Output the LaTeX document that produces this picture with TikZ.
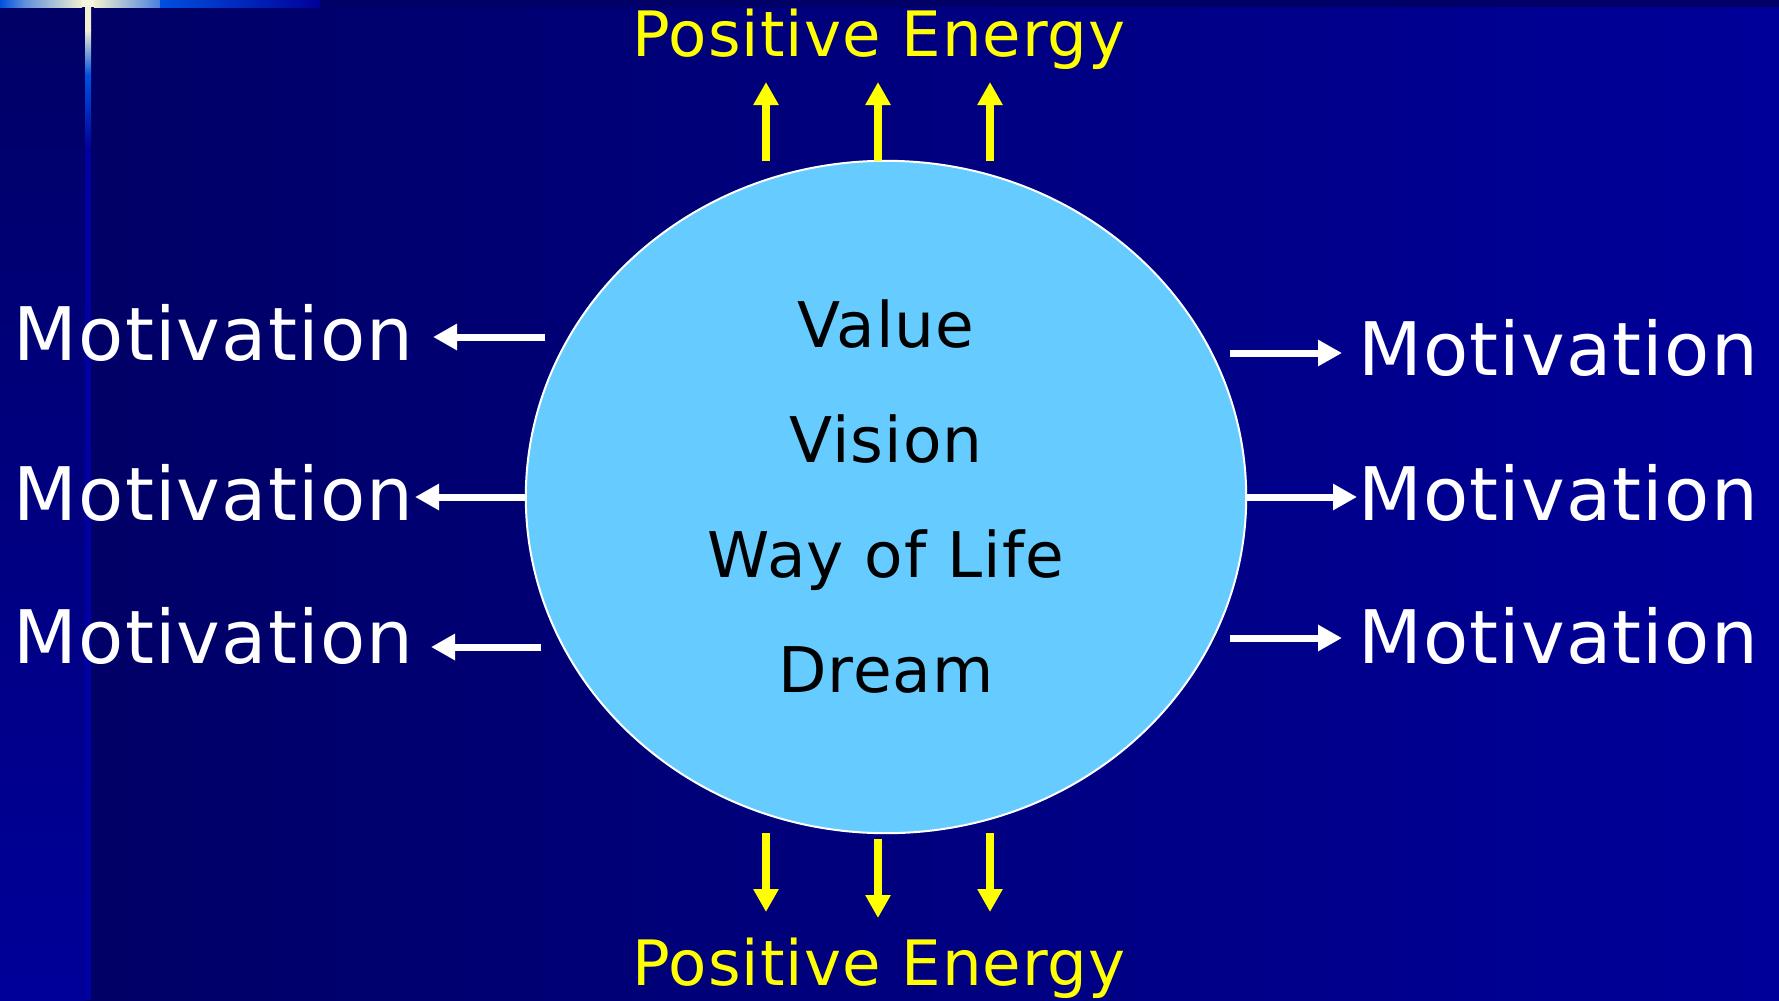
\documentclass[tikz,border=0pt]{standalone}
\usepackage{fontspec}
\setmainfont{DejaVu Sans}[LetterSpace=1.6]
\usetikzlibrary{arrows.meta,shapes.geometric}
\definecolor{bgdark}{HTML}{000066}
\definecolor{bglight}{HTML}{000099}
\definecolor{cream}{HTML}{F2F0D2}
\definecolor{brightblue}{HTML}{0050E0}
\definecolor{skyfill}{HTML}{66CCFF}
\definecolor{pyellow}{HTML}{FFFF00}
\tikzset{
  mot/.style={text=white, font=\fontsize{21pt}{25pt}\selectfont, anchor=base, inner sep=0pt},
  posen/.style={text=pyellow, font=\fontsize{17.8pt}{21pt}\selectfont, anchor=base, inner sep=0pt},
  core/.style={text=black, font=\fontsize{17.9pt}{21pt}\selectfont, anchor=base, inner sep=0pt},
  warr/.style={draw=white, line width=0.07cm, -{Triangle[length=0.24cm,width=0.25cm]}},
  yarr/.style={draw=pyellow, line width=0.08cm, -{Triangle[length=0.23cm,width=0.24cm]}},
}
\begin{document}
\begin{tikzpicture}[x=0.01cm,y=-0.01cm]
% background
\useasboundingbox (0,0) rectangle (1779,1000);
\shade[left color=bgdark, right color=bglight] (85,0) rectangle (1779,1000);
\shade[top color=bgdark, bottom color=bglight] (0,0) rectangle (85,1000);
% vertical line
\shade[top color=cream, bottom color=cream] (85,0) rectangle (91,30);
\shade[top color=cream, bottom color=brightblue] (85,30) rectangle (91,75);
\shade[top color=brightblue, bottom color=bglight] (85,75) rectangle (91,150);
\fill[color=bglight!90!blue] (85,150) rectangle (91,1000);
% top bar
\shade[left color=brightblue, right color=brightblue!60!cream] (0,0) rectangle (25,7);
\shade[left color=brightblue!60!cream, right color=cream] (25,0) rectangle (82,7);
\fill[cream!70!white] (82,0) rectangle (94,7);
\shade[left color=cream, right color=brightblue!70!cream] (94,0) rectangle (160,7);
\shade[left color=brightblue, right color=bglight] (160,0) rectangle (320,7);
\fill[bgdark] (320,0) rectangle (1779,7);

% central ellipse
\node[ellipse, draw=white, line width=0.02cm, fill=skyfill, minimum width=7.2cm, minimum height=6.72cm, inner sep=0pt] (circ) at (886,497) {};
\node[core] (value) at (886,347) {Value};
\node[core] (vision) at (886,462) {Vision};
\node[core] (way) at (886,577) {Way of Life};
\node[core] (dream) at (886,692) {Dream};

% Positive Energy labels
\node[posen] (petop) at (879,57) {Positive Energy};
\node[posen] (pebot) at (879,985) {Positive Energy};

% Motivation labels
\node[mot] (ml1) at (213.5,360) {Motivation};
\node[mot] (ml2) at (213.5,520) {Motivation};
\node[mot] (ml3) at (213.5,663) {Motivation};
\node[mot] (mr1) at (1558,375) {Motivation};
\node[mot] (mr2) at (1558,520) {Motivation};
\node[mot] (mr3) at (1558,663) {Motivation};

% arrow end coordinates
\coordinate (l1s) at (545,337); \coordinate (l1e) at (433,337);
\coordinate (l2s) at (526,497); \coordinate (l2e) at (415,497);
\coordinate (l3s) at (541,647); \coordinate (l3e) at (431,647);
\coordinate (r1s) at (1230,353); \coordinate (r1e) at (1342,353);
\coordinate (r2s) at (1246,497); \coordinate (r2e) at (1357,497);
\coordinate (r3s) at (1230,638); \coordinate (r3e) at (1342,638);
\coordinate (t1s) at (766,161); \coordinate (t1e) at (766,82);
\coordinate (t2s) at (878,161); \coordinate (t2e) at (878,82);
\coordinate (t3s) at (990,161); \coordinate (t3e) at (990,82);
\coordinate (b1s) at (766,833); \coordinate (b1e) at (766,912);
\coordinate (b2s) at (878,839); \coordinate (b2e) at (878,918);
\coordinate (b3s) at (990,833); \coordinate (b3e) at (990,912);

% white arrows
\draw[warr] (l1s) -- (l1e);
\draw[warr] (l2s) -- (l2e);
\draw[warr] (l3s) -- (l3e);
\draw[warr] (r1s) -- (r1e);
\draw[warr] (r2s) -- (r2e);
\draw[warr] (r3s) -- (r3e);
% yellow arrows
\draw[yarr] (t1s) -- (t1e);
\draw[yarr] (t2s) -- (t2e);
\draw[yarr] (t3s) -- (t3e);
\draw[yarr] (b1s) -- (b1e);
\draw[yarr] (b2s) -- (b2e);
\draw[yarr] (b3s) -- (b3e);
\end{tikzpicture}
\end{document}
